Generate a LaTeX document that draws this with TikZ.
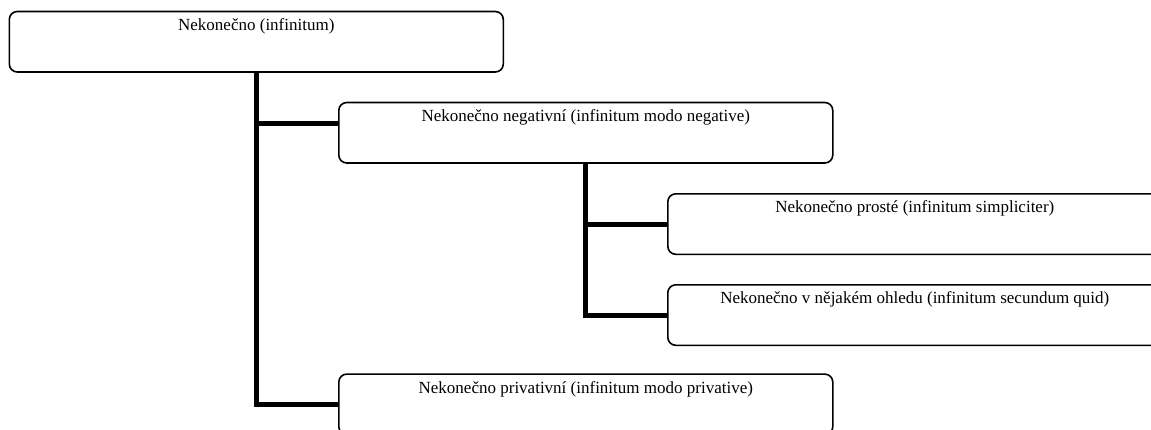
\documentclass[tikz,border=0pt]{standalone}
\usepackage{fontspec}
\setmainfont{Liberation Serif}
\usepackage{tikz}
\usetikzlibrary{positioning}

\begin{document}
\begin{tikzpicture}[x=1pt,y=-1pt]
% Define styles
\tikzstyle{block} = [rectangle, draw, line width=1.6pt, rounded corners=8pt, fill=white, anchor=north west, inner sep=0pt, minimum width=494pt, text height=19pt, text depth=41.5pt, font=\fontsize{17}{20}\selectfont]
\tikzstyle{conn} = [line width=5pt]
\clip (0,0) rectangle (1151,429);
% Define nodes
\node[block] (infinitum) at (8.5,10.7) {Nekonečno (infinitum)};
\node[block] (modo_neg) at (338,101.7) {Nekonečno negativní (infinitum modo negative)};
\node[block] (simpliciter) at (667,193) {Nekonečno prosté (infinitum simpliciter)};
\node[block] (secundum_quid) at (667,284) {Nekonečno v nějakém ohledu (infinitum secundum quid)};
\node[block] (modo_priv) at (338,373.3) {Nekonečno privativní (infinitum modo privative)};
\coordinate (neg_join) at ([yshift=9pt]modo_neg.west);
% Connect the nodes
\draw[conn] (infinitum.south) |- (modo_priv.west);
\draw[conn] (neg_join -| infinitum.south) -- (neg_join);
\draw[conn] (modo_neg.south) |- (secundum_quid.west);
\draw[conn] (modo_neg.south |- simpliciter.west) -- (simpliciter.west);
\end{tikzpicture}
\end{document}
